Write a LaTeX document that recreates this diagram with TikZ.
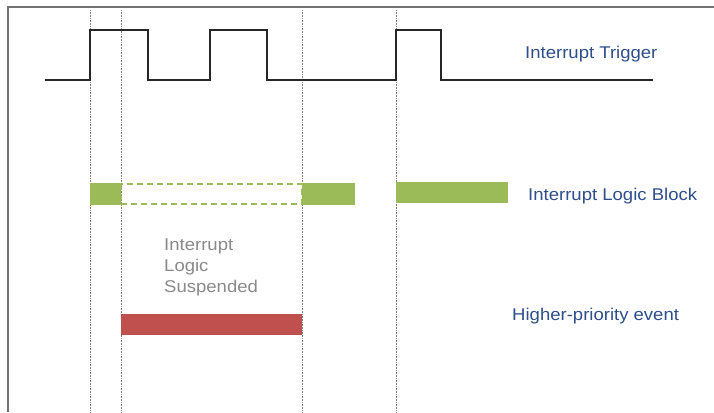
\documentclass[tikz,border=0pt]{standalone}
\usepackage{fontspec}
\setmainfont{Liberation Sans}
\newfontfamily\lblfont[FakeStretch=1.09]{Liberation Sans}
\definecolor{gbar}{HTML}{9BBB59}
\definecolor{rbar}{HTML}{C0504D}
\definecolor{lbl}{HTML}{2E4E8C}
\definecolor{susp}{HTML}{8A8A8A}
\begin{document}
\begin{tikzpicture}[x=1pt,y=-1pt,
  frame/.style={draw=black!55,line width=2pt},
  guide/.style={draw=black!50,densely dotted,line width=0.6pt},
  wave/.style={draw=black!85,line width=1.2pt},
  lab/.style={text=lbl,font=\lblfont\fontsize{17}{20}\selectfont,anchor=base west,inner sep=0pt},
  solidbar/.style={fill=gbar,draw=none},
  dashbar/.style={draw=gbar,dashed,line width=1.3pt,dash pattern=on 6pt off 4pt}]
\useasboundingbox (0,0) rectangle (714,412);
\fill[white] (0,0) rectangle (714,412);
% frame
\coordinate (fl) at (8,412);
\coordinate (fc) at (8,7);
\coordinate (fr) at (714,7);
\draw[frame] (fl) -- (fc) -- (fr);
% guides
\foreach \x/\n in {90/g1,121/g2,302/g3,396/g4}{
  \coordinate (\n t) at (\x,10);
  \coordinate (\n b) at (\x,412);
  \draw[guide] (\n t) -- (\n b);
}
% waveform
\coordinate (w0) at (45,80);
\draw[wave] (w0) -- (90,80) -- (90,30) -- (148,30) -- (148,80) -- (210,80) -- (210,30) -- (267,30) -- (267,80) -- (396,80) -- (396,30) -- (441,30) -- (441,80) -- (653,80);
% green bars
\fill[solidbar] (90,183) rectangle (121,205);
\draw[dashbar] (121,184) rectangle (302,204);
\fill[solidbar] (302,183) rectangle (355,205);
\fill[solidbar] (396,182) rectangle (508,203);
% red bar
\fill[rbar] (121,314) rectangle (302,335);
% labels
\node[lab] (trig) at (525,59) {Interrupt Trigger};
\node[lab] (ilb) at (528,200.5) {Interrupt Logic Block};
\node[lab] (hpe) at (512,320) {Higher-priority event};
\node[lab,text=susp] (sus1) at (164,250) {Interrupt};
\node[lab,text=susp] (sus2) at (164,271) {Logic};
\node[lab,text=susp] (sus3) at (164,292) {Suspended};
\end{tikzpicture}
\end{document}
